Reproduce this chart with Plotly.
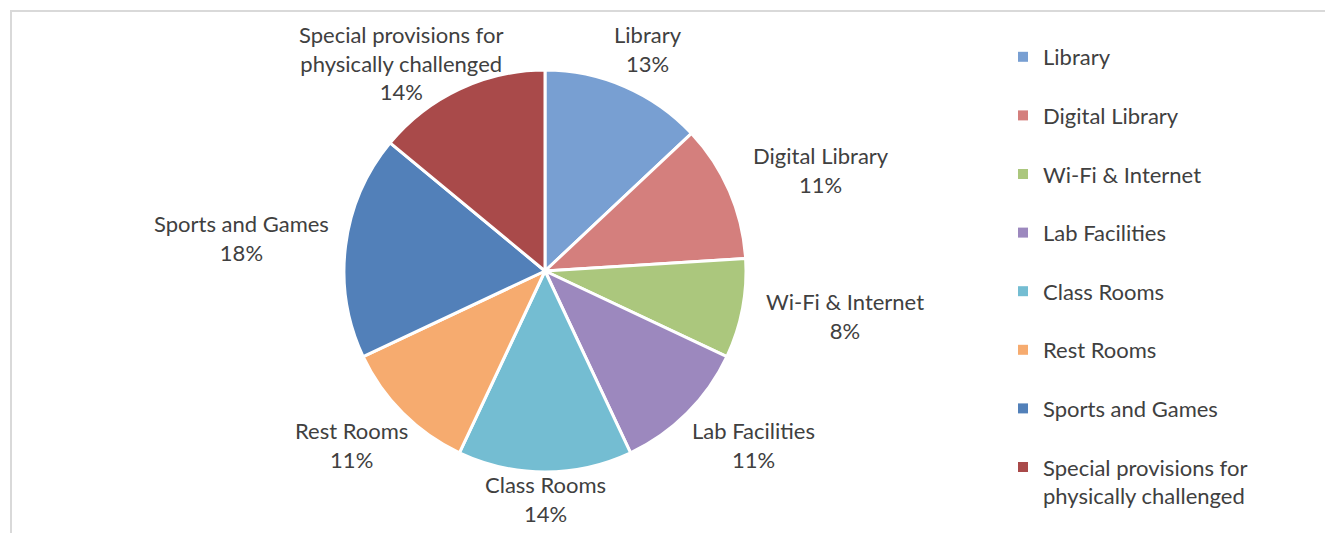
import math
import plotly.graph_objects as go

# ---- data ----
categories = ["Library", "Digital Library", "Wi-Fi & Internet", "Lab Facilities",
              "Class Rooms", "Rest Rooms", "Sports and Games",
              "Special provisions for physically challenged"]
percentages = [13, 11, 8, 11, 14, 11, 18, 14]
display_labels = ["Library", "Digital Library", "Wi-Fi & Internet", "Lab Facilities",
                  "Class Rooms", "Rest Rooms", "Sports and Games",
                  "Special provisions for<br>physically challenged"]
colors = ["#789fd2", "#d47f7d", "#abc77d", "#9c88be",
          "#74bdd2", "#f6ab6f", "#5280b9", "#a94a4a"]

# ---- layout geometry (window pixels; page body adds an 8px offset) ----
W, H = 1333, 533
OFF = 8
cx, cy, R = 545 - OFF, 271 - OFF, 201
FONT = "Lato, 'Open Sans', sans-serif"
TXT = "#404040"
FS = 22

fig = go.Figure()
fig.add_trace(go.Pie(
    labels=categories, values=percentages, sort=False, direction="clockwise",
    rotation=0, textinfo="none", hoverinfo="label+percent",
    marker=dict(colors=colors, line=dict(color="white", width=3)),
    domain=dict(x=[(cx - R) / W, (cx + R) / W], y=[1 - (cy + R) / H, 1 - (cy - R) / H]),
    showlegend=False,
))

# data labels placed outside slices, derived from the values
total = sum(percentages)
cum = 0
gap = 20
for lab, pct in zip(display_labels, percentages):
    mid = (cum + pct / 2) / total * 2 * math.pi
    cum += pct
    s, c = math.sin(mid), math.cos(mid)
    lines = lab.split("<br>") + [f"{pct}%"]
    h = 28 * len(lines)
    w = 10.6 * max(len(l) for l in lines)
    px = cx + (R + gap) * s + s * w / 2
    py = cy - (R + gap) * c - c * h / 2 - 2
    py = max(21 - OFF + h / 2, min(527 - OFF - h / 2, py))
    fig.add_annotation(x=px / W, y=1 - py / H, xref="paper", yref="paper",
                       text=f"{lab}<br>{pct}%", showarrow=False,
                       xanchor="center", yanchor="middle", align="center",
                       font=dict(family=FONT, size=FS, color=TXT))

# legend entries
for i, (cat, col) in enumerate(zip(display_labels, colors)):
    fig.add_trace(go.Scatter(x=[None], y=[None], mode="markers", name=cat,
                             legendgroup=f"g{i}", hoverinfo="skip",
                             marker=dict(symbol="square", size=10, color=col)))

fig.add_shape(type="rect", xref="paper", yref="paper",
              x0=(11 - OFF) / W, x1=1.02, y0=-0.02, y1=1 - (11 - OFF) / H,
              line=dict(color="#d9d9d9", width=2), fillcolor="rgba(0,0,0,0)")

fig.update_layout(
    width=W, height=H, margin=dict(l=0, r=0, t=0, b=0),
    paper_bgcolor="white", plot_bgcolor="white",
    xaxis=dict(visible=False), yaxis=dict(visible=False),
    legend=dict(x=(1003 - OFF) / W, y=1 - (36 - OFF) / H, xanchor="left", yanchor="top",
                font=dict(family=FONT, size=FS, color=TXT),
                tracegroupgap=27, valign="top", bgcolor="rgba(0,0,0,0)"),
    font=dict(family=FONT, color=TXT),
)

fig.write_html("out.html")
